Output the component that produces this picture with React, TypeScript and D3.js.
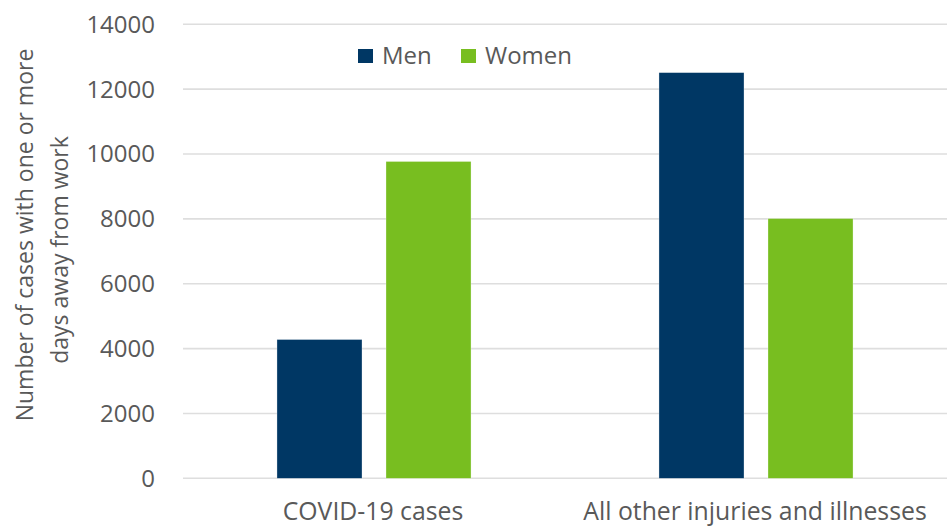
import React from "react";
import * as d3 from "d3";

const categories = ["COVID-19 cases", "All other injuries and illnesses"];
const seriesNames = ["Men", "Women"];
const menValues = [4280, 12510];
const womenValues = [9770, 8010];
const yTicks = [0, 2000, 4000, 6000, 8000, 10000, 12000, 14000];
const colors = ["#003764", "#78BE20"];
const yTitleLines = ["Number of cases with one or more", "days away from work"];

const W = 950;
const H = 527;
const FONT = "'Open Sans', 'Noto Sans', sans-serif";
const TEXT = "#595959";

export default function App() {
  const left = 183;
  const right = 947;
  const top = 24.3;
  const bottom = 478.3;

  const x0 = d3.scaleBand<string>().domain(categories).range([left, right]).padding(0);
  const x1 = d3
    .scaleBand<string>()
    .domain(seriesNames)
    .range([0, x0.bandwidth()])
    .paddingInner(0.22)
    .paddingOuter(0.862);
  const y = d3.scaleLinear().domain([0, 14000]).range([bottom, top]);

  const values = [menValues, womenValues];

  return (
    <div style={{ position: "absolute", left: 0, top: 0 }}>
      <svg width={W} height={H} style={{ display: "block", background: "#fff" }} fontFamily={FONT}>
        {yTicks.map((t) => (
          <g key={t}>
            <line x1={left} x2={right} y1={y(t)} y2={y(t)} stroke="#dedede" strokeWidth={1.6} />
            <text x={155} y={y(t)} dy="0.35em" textAnchor="end" fontSize={24} fill={TEXT}>
              {t}
            </text>
          </g>
        ))}
        {categories.map((c, ci) =>
          seriesNames.map((s, si) => {
            const v = values[si][ci];
            return (
              <rect
                key={c + s}
                x={(x0(c) as number) + (x1(s) as number)}
                y={y(v)}
                width={x1.bandwidth()}
                height={y(0) - y(v)}
                fill={colors[si]}
                stroke="#ffffff"
                strokeOpacity={0.5}
                strokeWidth={0.6}
              />
            );
          })
        )}
        {categories.map((c) => (
          <text
            key={c}
            x={(x0(c) as number) + x0.bandwidth() / 2 - 1}
            y={520}
            textAnchor="middle"
            fontSize={24.8}
            fill={TEXT}
          >
            {c}
          </text>
        ))}
        <g transform="translate(33,235) rotate(-90)">
          <text x={0} y={0} textAnchor="middle" fontSize={23} fill={TEXT}>
            {yTitleLines[0]}
          </text>
        </g>
        <g transform="translate(68,250) rotate(-90)">
          <text x={0} y={0} textAnchor="middle" fontSize={23} fill={TEXT}>
            {yTitleLines[1]}
          </text>
        </g>
        <g>
          <rect x={358} y={49} width={15} height={14} fill={colors[0]} />
          <text x={382} y={63.5} fontSize={24} fill={TEXT}>
            {seriesNames[0]}
          </text>
          <rect x={461} y={49} width={15} height={14} fill={colors[1]} />
          <text x={485} y={63.5} fontSize={24} fill={TEXT}>
            {seriesNames[1]}
          </text>
        </g>
      </svg>
    </div>
  );
}
